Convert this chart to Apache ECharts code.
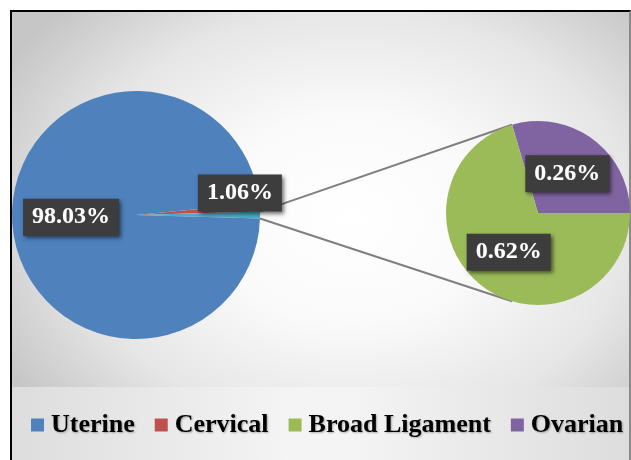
<!DOCTYPE html>
<html>
<head>
<meta charset="utf-8">
<script src="https://cdn.jsdelivr.net/npm/echarts@6/dist/echarts.min.js"></script>
<style>
  html, body { margin:0; padding:0; background:#ffffff; }
  #wrap { position:relative; width:631px; height:460px; overflow:hidden; }
  #frame { position:absolute; left:10px; top:10px; width:617px; height:460px;
           border-left:2px solid #000; border-top:2px solid #000; border-right:2px solid #8a8a8a; }
  #plotbg { position:absolute; left:0; top:0; width:617px; height:375px;
            background: radial-gradient(ellipse 65% 80% at 55% 55%, #ffffff 0%, #fafafa 35%, #e6e6e6 70%, #c6c6c6 100%); }
  #legbg { position:absolute; left:0; top:375px; width:617px; height:90px;
           background: linear-gradient(to right, #dddddd 0%, #f4f4f4 45%, #f4f4f4 55%, #dddddd 100%); }
  #chart { position:absolute; left:0; top:0; width:631px; height:460px; }
</style>
</head>
<body>
<div id="wrap">
  <div id="frame"><div id="plotbg"></div><div id="legbg"></div></div>
  <div id="chart"></div>
</div>
<script>
// ---- data ----
const categories = ['Uterine', 'Cervical', 'Broad Ligament', 'Ovarian'];
const values = [98.03, 1.06, 0.62, 0.26];
const colors = ['#4F81BD', '#C0504D', '#9BBB59', '#8064A2'];
const otherColor = '#4BACC6';

// ---- layout constants ----
const leftCenter = [136, 215], leftR = 124;
const rightCenter = [538, 213], rightR = 92;

const otherVal = values[2] + values[3];
const leftTotal = values[0] + values[1] + otherVal;
const otherHalfDeg = otherVal / 2 / leftTotal * 360;
const leftStart = otherHalfDeg + values[1] / leftTotal * 360;
const rightStart = values[3] / otherVal * 360;

function pt(c, r, deg) {
  const a = deg * Math.PI / 180;
  return [c[0] + r * Math.cos(a), c[1] - r * Math.sin(a)];
}
const l1 = pt(leftCenter, leftR, otherHalfDeg), l2 = pt(leftCenter, leftR, -otherHalfDeg);
const r1 = pt(rightCenter, rightR, rightStart), r2 = pt(rightCenter, rightR, -rightStart);

const labelStyle = {
  show: true, position: 'inside', formatter: p => p.value.toFixed(2) + '%',
  color: '#ffffff', fontFamily: 'Liberation Serif', fontWeight: 'bold', fontSize: 24, lineHeight: 25,
  backgroundColor: '#3d3d3d', padding: [6, 9],
  textShadowColor: 'rgba(255,255,255,0.25)', textShadowBlur: 1,
  shadowColor: 'rgba(0,0,0,0.55)', shadowBlur: 4, shadowOffsetX: 2, shadowOffsetY: 2
};

const chart = echarts.init(document.getElementById('chart'), null, { renderer: 'canvas' });
chart.setOption({
  animation: false,
  legend: {
    data: categories, left: 31, top: 412, width: 600, padding: 0,
    icon: 'rect', itemWidth: 13, itemHeight: 13, itemGap: 20,
    selectedMode: false,
    textStyle: { fontFamily: 'Liberation Serif', fontWeight: 'bold', fontSize: 26, color: '#000',
      padding: [0, 0, 0, 2],
      textShadowColor: 'rgba(0,0,0,0.3)', textShadowBlur: 2, textShadowOffsetX: 1, textShadowOffsetY: 1 }
  },
  graphic: [
    { type: 'line', z: 1, shape: { x1: l1[0], y1: l1[1], x2: r1[0], y2: r1[1] }, style: { stroke: '#7f7f7f', lineWidth: 2 } },
    { type: 'line', z: 1, shape: { x1: l2[0], y1: l2[1], x2: r2[0], y2: r2[1] }, style: { stroke: '#7f7f7f', lineWidth: 2 } }
  ],
  series: [
    {
      type: 'pie', z: 3, center: leftCenter, radius: [0, leftR], startAngle: leftStart, clockwise: true,
      avoidLabelOverlap: false, silent: true,
      label: labelStyle, labelLine: { show: false },
      labelLayout: p => (p.dataIndex === 0 ? { dx: 39, dy: -18 } : {}),
      data: [
        { name: categories[1], value: values[1], itemStyle: { color: colors[1] } },
        { name: 'Other', value: otherVal, itemStyle: { color: otherColor }, label: { show: false } },
        { name: categories[0], value: values[0], itemStyle: { color: colors[0] } }
      ]
    },
    {
      type: 'pie', z: 3, center: rightCenter, radius: [0, rightR], startAngle: rightStart, clockwise: true,
      avoidLabelOverlap: false, silent: true,
      label: labelStyle, labelLine: { show: false },
      data: [
        { name: categories[3], value: values[3], itemStyle: { color: colors[3] } },
        { name: categories[2], value: values[2], itemStyle: { color: colors[2] } }
      ]
    }
  ]
});
</script>
</body>
</html>
